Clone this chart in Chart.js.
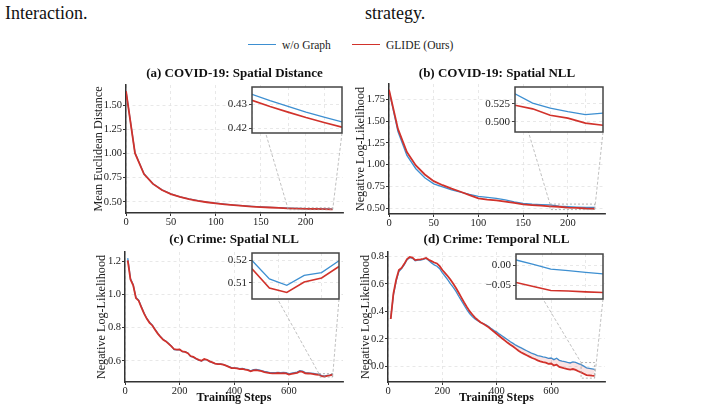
<!DOCTYPE html>
<html><head><meta charset="utf-8">
<script src="https://cdn.jsdelivr.net/npm/chart.js@4/dist/chart.umd.min.js"></script>
<style>
html,body{margin:0;padding:0;background:#fff;}
#root{position:relative;width:703px;height:411px;overflow:hidden;font-family:"Liberation Serif","Times New Roman",serif;background:#fff;}
#root canvas{position:absolute;}
.cap{position:absolute;font-size:18px;line-height:22px;color:#111;white-space:nowrap;}
.legtxt{position:absolute;top:38px;font-size:11.5px;line-height:14px;color:#222;white-space:nowrap;}
.sw{position:absolute;top:44px;height:0;border-top:1.6px solid;}
</style></head><body>
<div id="root">
  <div class="cap" style="left:5px;top:2px">Interaction.</div>
  <div class="cap" style="left:365px;top:2px">strategy.</div>
  <div class="sw" style="left:248px;width:28px;border-color:#3d8fd1"></div>
  <div class="legtxt" style="left:282px">w/o Graph</div>
  <div class="sw" style="left:352px;width:28px;border-color:#d1322b"></div>
  <div class="legtxt" style="left:386px">GLIDE (Ours)</div>
</div>
<script>
// ---------------- data ----------------
const covidSteps = [0,10,20,30,40,50,60,70,80,90,100,110,120,130,140,150,160,170,180,190,200,210,220,230];
const covidDistBlue = [1.655,1.010,0.792,0.688,0.624,0.582,0.552,0.529,0.511,0.497,0.485,0.475,0.466,0.459,0.452,0.447,0.442,0.438,0.4344,0.4317,0.4292,0.4268,0.4247,0.4226];
const covidDistRed  = [1.650,1.005,0.789,0.686,0.622,0.580,0.550,0.527,0.509,0.495,0.483,0.473,0.464,0.457,0.450,0.445,0.440,0.436,0.4318,0.4292,0.4268,0.4245,0.4224,0.4204];
const covidNllBlue = [1.850,1.380,1.107,0.954,0.850,0.781,0.745,0.712,0.685,0.660,0.638,0.625,0.613,0.597,0.575,0.556,0.548,0.543,0.539,0.526,0.519,0.514,0.510,0.512];
const covidNllRed  = [1.860,1.410,1.145,0.992,0.888,0.811,0.765,0.725,0.690,0.652,0.615,0.600,0.590,0.578,0.562,0.546,0.537,0.530,0.523,0.518,0.509,0.505,0.498,0.495];

const crimeSteps = [10,20,30,40,50,60,70,80,90,100,110,120,130,140,150,160,170,180,190,200,210,220,230,240,250,260,270,280,290,300,310,320,330,340,350,360,370,380,390,400,410,420,430,440,450,460,470,480,490,500,510,520,530,540,550,560,570,580,590,600,610,620,630,640,650,660,670,680,690,700,710,720,730,740,750,760];
const crimeSpatialBlue = [1.218,1.095,1.058,0.982,0.965,0.925,0.886,0.855,0.832,0.815,
  0.790,0.766,0.746,0.729,0.718,0.704,0.689,0.668,0.666,0.668,
  0.656,0.655,0.648,0.627,0.622,0.612,0.604,0.599,0.609,0.606,
  0.596,0.590,0.584,0.582,0.582,0.578,0.572,0.566,0.559,0.558,
  0.557,0.553,0.555,0.550,0.548,0.540,0.547,0.549,0.546,0.541,
  0.537,0.534,0.530,0.529,0.529,0.531,0.529,0.530,0.529,0.522,
  0.526,0.529,0.532,0.541,0.538,0.529,0.528,0.527,0.525,0.522,
  0.5200,0.5118,0.5090,0.5134,0.5146,0.5199];
const crimeSpatialRed = [1.205,1.090,1.055,0.978,0.962,0.922,0.884,0.853,0.829,0.813,
  0.788,0.764,0.744,0.727,0.717,0.702,0.687,0.670,0.668,0.669,
  0.657,0.654,0.646,0.629,0.624,0.614,0.606,0.601,0.611,0.607,
  0.597,0.591,0.584,0.581,0.581,0.577,0.571,0.564,0.557,0.556,
  0.555,0.551,0.552,0.547,0.544,0.537,0.543,0.544,0.542,0.538,
  0.533,0.530,0.526,0.525,0.525,0.527,0.525,0.526,0.525,0.518,
  0.522,0.525,0.528,0.537,0.534,0.525,0.524,0.523,0.521,0.518,
  0.5163,0.5078,0.5058,0.5104,0.5122,0.5173];
const crimeTemporalBlue = [0.350,0.520,0.620,0.690,0.710,0.740,0.775,0.790,0.785,0.768,
  0.772,0.773,0.778,0.785,0.770,0.752,0.738,0.728,0.710,0.680,
  0.655,0.628,0.600,0.575,0.545,0.510,0.478,0.445,0.412,0.385,
  0.362,0.345,0.332,0.320,0.312,0.302,0.290,0.275,0.262,0.250,
  0.235,0.222,0.208,0.195,0.180,0.168,0.155,0.145,0.135,0.125,
  0.115,0.105,0.095,0.088,0.080,0.075,0.070,0.066,0.060,0.062,
  0.050,0.060,0.045,0.040,0.036,0.030,0.026,0.034,0.030,0.022,
  0.014,0.003,-0.009,-0.013,-0.017,-0.021];
const crimeTemporalRed = [0.345,0.530,0.630,0.700,0.715,0.745,0.780,0.795,0.790,0.772,
  0.776,0.777,0.782,0.788,0.775,0.765,0.755,0.748,0.728,0.700,
  0.678,0.655,0.630,0.600,0.570,0.535,0.500,0.465,0.432,0.402,
  0.378,0.355,0.338,0.322,0.310,0.298,0.285,0.268,0.252,0.236,
  0.220,0.204,0.188,0.172,0.158,0.145,0.130,0.115,0.102,0.092,
  0.082,0.072,0.062,0.055,0.045,0.038,0.032,0.028,0.020,0.022,
  0.008,0.014,-0.002,-0.008,-0.014,-0.018,-0.022,-0.018,-0.024,-0.034,
  -0.0425,-0.0525,-0.0625,-0.064,-0.066,-0.0675];

const covidXTicks = [0,50,100,150,200];
const crimeXTicks = [0,200,400,600];
const distYTicks = [0.50,0.75,1.00,1.25,1.50];
const covidNllYTicks = [0.50,0.75,1.00,1.25,1.50,1.75];
const crimeSpatialYTicks = [0.6,0.8,1.0,1.2];
const crimeTemporalYTicks = [0.0,0.2,0.4,0.6,0.8];

const covidZoomX = [180,230];
const crimeZoomX = [710,760];
const covidInsetXTicks = [180,200,220];
const crimeInsetXTicks = [725,750];
const distZoomY = [0.4179,0.4375];
const distInsetYTicks = [0.42,0.43];
const covidNllZoomY = [0.4856,0.5486];
const covidNllInsetYTicks = [0.500,0.525];
const crimeSpatialZoomY = [0.5029,0.5233];
const crimeSpatialInsetYTicks = [0.51,0.52];
const crimeTemporalZoomY = [-0.084,0.029];
const crimeTemporalInsetYTicks = [-0.05,0.00];

// ---------------- style / layout ----------------
const BLUE = '#3d8fd1', RED = '#d1322b';
const GRID = '#e2e2e2', AXIS = '#333';
Chart.defaults.font.family = '"Liberation Serif","Times New Roman",serif';
Chart.defaults.color = '#222';
Chart.defaults.animation = false;

const panels = [
  {title:'(a) COVID-19: Spatial Distance', ylabel:'Mean Euclidean Distance', xlabel:null,
   steps:covidSteps, blue:covidDistBlue, red:covidDistRed, xmax:241.5, ymin:0.383, ymax:1.715,
   xticks:covidXTicks, yticks:distYTicks, yd:2, shade:false,
   box:{x:91,y:62,w:287,h:168}, yw:35, xh:17, tp:4,
   inset:{x:covidZoomX, y:distZoomY, xticks:covidInsetXTicks, yticks:distInsetYTicks, yd:2, box:{x:218,y:78,w:126,h:64}, yw:34}},
  {title:'(b) COVID-19: Spatial NLL', ylabel:'Negative Log-Likelihood', xlabel:null,
   steps:covidSteps, blue:covidNllBlue, red:covidNllRed, xmax:241.5, ymin:0.435, ymax:1.925,
   xticks:covidXTicks, yticks:covidNllYTicks, yd:2, shade:false,
   box:{x:353,y:61,w:288,h:170}, yw:36, xh:17, tp:5,
   inset:{x:covidZoomX, y:covidNllZoomY, xticks:covidInsetXTicks, yticks:covidNllInsetYTicks, yd:3, box:{x:477,y:78,w:128,h:63}, yw:38}},
  {title:'(c) Crime: Spatial NLL', ylabel:'Negative Log-Likelihood', xlabel:'Training Steps',
   steps:crimeSteps, blue:crimeSpatialBlue, red:crimeSpatialRed, xmax:798, ymin:0.473, ymax:1.255,
   xticks:crimeXTicks, yticks:crimeSpatialYTicks, yd:1, shade:false,
   box:{x:94,y:229,w:280,h:177}, yw:31, xh:24, tp:3,
   inset:{x:crimeZoomX, y:crimeSpatialZoomY, xticks:crimeInsetXTicks, yticks:crimeSpatialInsetYTicks, yd:2, box:{x:220,y:244,w:121,h:64}, yw:32}},
  {title:'(d) Crime: Temporal NLL', ylabel:'Negative Log-Likelihood', xlabel:'Training Steps',
   steps:crimeSteps, blue:crimeTemporalBlue, red:crimeTemporalRed, xmax:798, ymin:-0.112, ymax:0.831,
   xticks:crimeXTicks, yticks:crimeTemporalYTicks, yd:1, shade:true,
   box:{x:358,y:229,w:277,h:177}, yw:30, xh:24, tp:3,
   inset:{x:crimeZoomX, y:crimeTemporalZoomY, xticks:crimeInsetXTicks, yticks:crimeTemporalInsetYTicks, yd:2, box:{x:479,y:245,w:126,h:63}, yw:37}}
];

const root = document.getElementById('root');
function makeCanvas(b){
  const c = document.createElement('canvas');
  c.width = b.w; c.height = b.h;
  c.style.left = b.x + 'px'; c.style.top = b.y + 'px';
  c.style.width = b.w + 'px'; c.style.height = b.h + 'px';
  root.appendChild(c);
  return c;
}
function pts(xs, ys){ return xs.map((x,i)=>({x:x, y:ys[i]})); }
function within(xs, ys, r){ const o=[]; xs.forEach((x,i)=>{ if(x>=r[0] && x<=r[1]) o.push({x:x,y:ys[i]}); }); return o; }
function fmt(d){ return v => Number(v).toFixed(d).replace('-', '\u2212'); }
function setTicks(arr){ return s => { s.ticks = arr.map(v=>({value:v})); }; }

const zoomRectPlugin = {
  id:'zoomRect',
  afterDatasetsDraw(chart, args, opts){
    if(!opts || !opts.x) return;
    const sx = chart.scales.x, sy = chart.scales.y, ctx = chart.ctx;
    const x0 = sx.getPixelForValue(opts.x[0]), x1 = sx.getPixelForValue(opts.x[1]);
    const y0 = sy.getPixelForValue(opts.y[1]), y1 = sy.getPixelForValue(opts.y[0]);
    ctx.save(); ctx.setLineDash([2,2]); ctx.strokeStyle = '#a0a0a0'; ctx.lineWidth = 0.8;
    ctx.strokeRect(x0, y0, x1-x0, y1-y0); ctx.restore();
  }
};
const framePlugin = {
  id:'frame',
  beforeDraw(c){ const a=c.chartArea, x=c.ctx; x.save(); x.fillStyle='#fff'; x.fillRect(a.left,a.top,a.right-a.left,a.bottom-a.top); x.restore(); },
  afterDraw(c){ const a=c.chartArea, x=c.ctx; x.save(); x.strokeStyle='#444'; x.lineWidth=1.5; x.strokeRect(a.left,a.top,a.right-a.left,a.bottom-a.top); x.restore(); }
};

function mainChart(p){
  const c = makeCanvas(p.box);
  return new Chart(c, {
    type:'line',
    data:{datasets:[
      {label:'w/o Graph', data:pts(p.steps,p.blue), borderColor:BLUE, borderWidth:1.3, pointRadius:0, fill:false, order:1},
      {label:'GLIDE (Ours)', data:pts(p.steps,p.red), borderColor:RED, borderWidth:1.8, pointRadius:0, order:0,
       fill: p.shade ? {target:0, above:'rgba(0,0,0,0)', below:'rgba(214,50,45,0.13)'} : false}
    ]},
    options:{
      responsive:false, animation:false, events:[],
      layout:{padding:0},
      plugins:{
        legend:{display:false}, tooltip:{enabled:false},
        title:{display:true, text:p.title, color:'#111', font:{size:13, weight:'bold'}, padding:{top:p.tp, bottom:23-15.6-p.tp}},
        zoomRect:{x:p.inset.x, y:p.inset.y}
      },
      scales:{
        x:{type:'linear', min:0, max:p.xmax,
           afterBuildTicks:setTicks(p.xticks), afterFit:s=>{ s.height = p.xh; },
           ticks:{font:{size:10.5}, padding:0, color:'#222', maxRotation:0, callback:v=>String(v)},
           grid:{color:GRID, lineWidth:0.8, tickLength:3, tickColor:AXIS, tickWidth:1},
           border:{display:true, color:AXIS, width:1.5, dash:[3,3]},
           title:p.xlabel ? {display:true, text:p.xlabel, color:'#111', font:{size:12, weight:'bold'}, padding:{top:0,bottom:1}} : {display:false}},
        y:{type:'linear', min:p.ymin, max:p.ymax,
           afterBuildTicks:setTicks(p.yticks), afterFit:s=>{ s.width = p.yw; },
           ticks:{font:{size:10.5}, padding:1, color:'#222', callback:fmt(p.yd)},
           grid:{color:GRID, lineWidth:0.8, tickLength:3, tickColor:AXIS, tickWidth:1},
           border:{display:true, color:AXIS, width:1.5, dash:[3,3]},
           title:{display:true, text:p.ylabel, color:'#222', font:{size:12.2}, padding:{top:0.5,bottom:0}}},
        spacer:{type:'linear', position:'right', display:true, min:0, max:1,
           afterFit:s=>{ s.width = p.yw; },
           ticks:{display:false}, grid:{display:false, drawTicks:false}, border:{display:false}}
      }
    },
    plugins:[zoomRectPlugin]
  });
}

function insetChart(p){
  const q = p.inset;
  const c = makeCanvas(q.box);
  return new Chart(c, {
    type:'line',
    data:{datasets:[
      {label:'w/o Graph', data:within(p.steps,p.blue,q.x), borderColor:BLUE, borderWidth:1.3, pointRadius:0, fill:false, order:1},
      {label:'GLIDE (Ours)', data:within(p.steps,p.red,q.x), borderColor:RED, borderWidth:1.6, pointRadius:0, fill:false, order:0}
    ]},
    options:{
      responsive:false, animation:false, events:[],
      layout:{padding:{top:9,left:0,right:2,bottom:9}},
      plugins:{legend:{display:false}, tooltip:{enabled:false}},
      scales:{
        x:{type:'linear', min:q.x[0], max:q.x[1],
           afterBuildTicks:setTicks(q.xticks), afterFit:s=>{ s.height = 0; },
           ticks:{display:false},
           grid:{color:GRID, lineWidth:0.8, drawTicks:false},
           border:{display:false, dash:[3,3]}},
        y:{type:'linear', min:q.y[0], max:q.y[1],
           afterBuildTicks:setTicks(q.yticks), afterFit:s=>{ s.width = q.yw; },
           ticks:{font:{size:11}, padding:2, color:'#222', callback:fmt(q.yd)},
           grid:{color:GRID, lineWidth:0.8, tickLength:3, tickColor:'#444', tickWidth:1},
           border:{display:false, dash:[3,3]}}
      }
    },
    plugins:[framePlugin]
  });
}

const mains = panels.map(mainChart);
const overlay = makeCanvas({x:0,y:0,w:703,h:411});
const insets = panels.map(insetChart);

const octx = overlay.getContext('2d');
octx.strokeStyle = '#b0b0b0'; octx.lineWidth = 0.8; octx.setLineDash([3,2]);
panels.forEach((p,i)=>{
  const m = mains[i], n = insets[i], q = p.inset;
  const sx = m.scales.x, sy = m.scales.y, a = n.chartArea;
  const rx0 = p.box.x + sx.getPixelForValue(q.x[0]);
  const rx1 = p.box.x + sx.getPixelForValue(q.x[1]);
  const ryT = p.box.y + sy.getPixelForValue(q.y[1]);
  const ryB = p.box.y + sy.getPixelForValue(q.y[0]);
  octx.beginPath();
  octx.moveTo(q.box.x + a.left, q.box.y + a.top); octx.lineTo(rx0, ryT);
  octx.moveTo(q.box.x + a.right, q.box.y + a.bottom); octx.lineTo(rx1, ryB);
  octx.stroke();
});
</script>
</body></html>
